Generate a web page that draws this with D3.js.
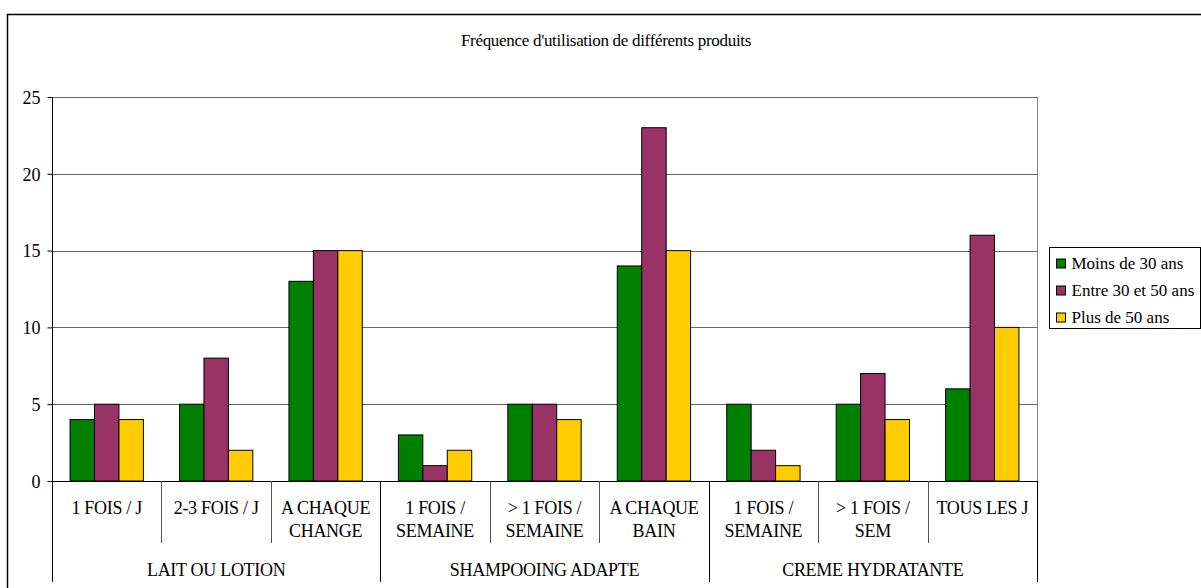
<!DOCTYPE html>
<html>
<head>
<meta charset="utf-8">
<script src="https://cdn.jsdelivr.net/npm/d3@7"></script>
<style>
  body { margin: 0; background: #fff; }
  text { font-family: "Liberation Serif", "Times New Roman", serif; fill: #000; }
</style>
</head>
<body>
<div id="chart"></div>
<script>
// Data
var groups = ["LAIT OU LOTION", "SHAMPOOING ADAPTE", "CREME HYDRATANTE"];
var categories = [
  ["1 FOIS / J"], ["2-3 FOIS / J"], ["A CHAQUE", "CHANGE"],
  ["1 FOIS /", "SEMAINE"], ["> 1 FOIS /", "SEMAINE"], ["A CHAQUE", "BAIN"],
  ["1 FOIS /", "SEMAINE"], ["> 1 FOIS /", "SEM"], ["TOUS LES J"]
];
var groupOf = [0, 0, 0, 1, 1, 1, 2, 2, 2];
var seriesNames = ["Moins de 30 ans", "Entre 30 et 50 ans", "Plus de 50 ans"];
var moins30 = [4, 5, 13, 3, 5, 14, 5, 5, 6];
var entre30_50 = [5, 8, 15, 1, 5, 23, 2, 7, 16];
var plus50 = [4, 2, 15, 2, 4, 15, 1, 4, 10];
var yTicks = [0, 5, 10, 15, 20, 25];
var colors = ["#008000", "#993366", "#FFCC00"];

var W = 1201, H = 588;
var pLeft = 52, pRight = 1037, pTop = 97, pBottom = 481;

var svg = d3.select("#chart").append("svg")
    .attr("width", W)
    .attr("height", H);

// outer frame
svg.append("rect")
    .attr("x", 7.5).attr("y", 14.5)
    .attr("width", 1300).attr("height", 700)
    .attr("fill", "none").attr("stroke", "#000").attr("stroke-width", 1.5);

// title
svg.append("text")
    .attr("x", 606).attr("y", 46)
    .attr("text-anchor", "middle")
    .style("font-size", "17px")
    .style("letter-spacing", "-0.3px")
    .text("Fréquence d'utilisation de différents produits");

var idx = d3.range(categories.length);
var x = d3.scaleBand().domain(idx).range([pLeft, pRight]).paddingInner(0).paddingOuter(0);
var xs = d3.scaleBand().domain([0, 1, 2])
    .range([x.bandwidth() * 0.165, x.bandwidth() * 0.835]);
var y = d3.scaleLinear().domain([0, 25]).range([pBottom, pTop]);

// gridlines
svg.append("g")
  .selectAll("line")
  .data(yTicks.filter(function(d) { return d > 0; }))
  .enter().append("line")
    .attr("x1", pLeft).attr("x2", pRight)
    .attr("y1", function(d) { return Math.round(y(d)) + 0.5; })
    .attr("y2", function(d) { return Math.round(y(d)) + 0.5; })
    .attr("stroke", "#666");

// plot right border
svg.append("line")
    .attr("x1", pRight + 0.5).attr("x2", pRight + 0.5)
    .attr("y1", pTop).attr("y2", pBottom)
    .attr("stroke", "#888");

// bars
var series = [moins30, entre30_50, plus50];
series.forEach(function(vals, s) {
  svg.append("g")
    .selectAll("rect")
    .data(vals)
    .enter().append("rect")
      .attr("x", function(d, i) { return x(i) + xs(s); })
      .attr("width", xs.bandwidth())
      .attr("y", function(d) { return y(d); })
      .attr("height", function(d) { return y(0) - y(d); })
      .attr("fill", colors[s])
      .attr("stroke", "#000")
      .attr("stroke-width", 1);
});

// y axis
var yAxis = svg.append("g")
    .attr("transform", "translate(" + (pLeft + 0.5) + ",0)")
    .call(d3.axisLeft(y).tickValues(yTicks).tickSize(5).tickPadding(7));
yAxis.select(".domain").remove();
yAxis.selectAll("text").style("font-size", "18px").attr("dy", "0.35em");
yAxis.append("line")
    .attr("x1", 0).attr("x2", 0)
    .attr("y1", pTop).attr("y2", 582)
    .attr("stroke", "#000");

// x baseline
svg.append("line")
    .attr("x1", pLeft).attr("x2", pRight + 1)
    .attr("y1", Math.round(y(0)) + 0.5).attr("y2", Math.round(y(0)) + 0.5)
    .attr("stroke", "#000");

// category separators
idx.slice(1).concat([categories.length]).forEach(function(i) {
  var xx = Math.round(i < categories.length ? x(i) : pRight) + 0.5;
  var isGroup = i === categories.length || groupOf[i] !== groupOf[i - 1];
  svg.append("line")
      .attr("x1", xx).attr("x2", xx)
      .attr("y1", y(0)).attr("y2", isGroup ? 582 : 543)
      .attr("stroke", isGroup ? "#000" : "#555");
});

// category labels
var catLabels = svg.append("g").selectAll("text")
    .data(categories)
    .enter().append("text")
      .attr("text-anchor", "middle")
      .attr("x", function(d, i) { return x(i) + x.bandwidth() / 2; })
      .attr("y", 514)
      .style("font-size", "18px")
      .style("letter-spacing", "-0.3px");
catLabels.selectAll("tspan")
    .data(function(d) { return d; })
    .enter().append("tspan")
      .attr("x", function() { return d3.select(this.parentNode).attr("x"); })
      .attr("dy", function(d, j) { return j === 0 ? 0 : 23; })
      .text(function(d) { return d; });

// group labels
groups.forEach(function(g, k) {
  var first = idx.filter(function(i) { return groupOf[i] === k; });
  var cx = (x(first[0]) + x(first[first.length - 1]) + x.bandwidth()) / 2;
  svg.append("text")
      .attr("x", cx).attr("y", 576)
      .attr("text-anchor", "middle")
      .style("font-size", "18px")
      .style("letter-spacing", "-0.3px")
      .text(g);
});

// legend
var legend = svg.append("g").attr("transform", "translate(1049.5,247.5)");
legend.append("rect")
    .attr("width", 151).attr("height", 81)
    .attr("fill", "#fff").attr("stroke", "#000");
seriesNames.forEach(function(n, s) {
  var ly = 16 + s * 27;
  legend.append("rect")
      .attr("x", 7).attr("y", ly - 4.5)
      .attr("width", 9).attr("height", 9)
      .attr("fill", colors[s]).attr("stroke", "#000");
  legend.append("text")
      .attr("x", 22).attr("y", ly + 5)
      .style("font-size", "17px")
      .text(n);
});
</script>
</body>
</html>
